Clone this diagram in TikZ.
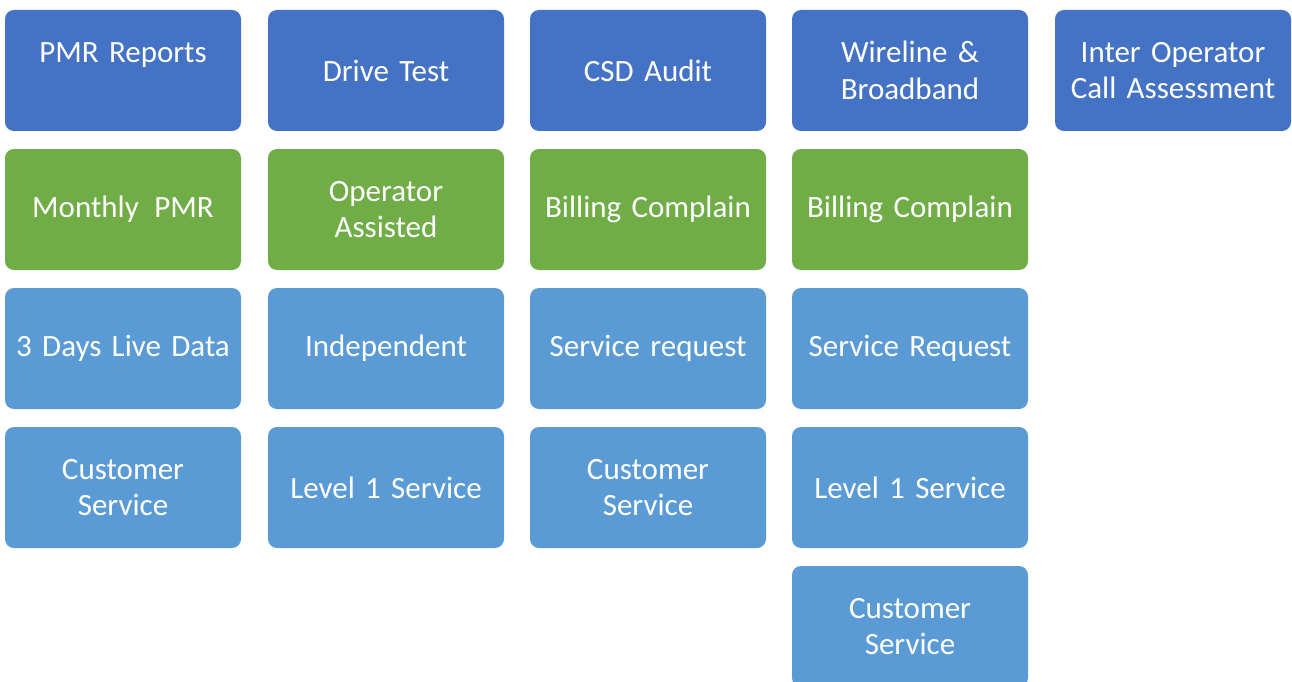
\documentclass[tikz,border=0pt]{standalone}
\usepackage{fontspec}
\setmainfont{Carlito}
\definecolor{dblue}{HTML}{4472C4}
\definecolor{lgreen}{HTML}{70AD47}
\definecolor{lblue}{HTML}{5B9BD5}
\begin{document}
\begin{tikzpicture}[x=1pt,y=-1pt,
  box/.style={rounded corners=9pt, minimum width=236pt, minimum height=121pt, inner sep=0pt,
    text=white, align=center, font=\fontsize{31}{36.5}\selectfont, text width=234pt},
  topbox/.style={box, fill=dblue},
  greenbox/.style={box, fill=lgreen},
  lbbox/.style={box, fill=lblue}]
\useasboundingbox (0,0) rectangle (1292,682);
\begin{scope}
\clip (0,0) rectangle (1292,682);
% column centers: 123, 386, 648, 910, 1173 ; row centers: 70.5, 209.5, 348.5, 487.5, 626.5
\node[topbox] (a1) at (123,70.5) {PMR Reports\\\mbox{}};
\node[topbox] (b1) at (386,70.5) {Drive Test};
\node[topbox] (c1) at (648,70.5) {CSD Audit};
\node[topbox] (d1) at (910,70.5) {Wireline \&\\Broadband};
\node[topbox] (e1) at (1173,70.5) {Inter Operator\\Call Assessment};
\node[greenbox] (a2) at (123,209.5) {Monthly\, PMR};
\node[greenbox] (b2) at (386,209.5) {Operator\\Assisted};
\node[greenbox] (c2) at (648,209.5) {Billing Complain};
\node[greenbox] (d2) at (910,209.5) {Billing Complain};
\node[lbbox] (a3) at (123,348.5) {3 Days Live Data};
\node[lbbox] (b3) at (386,348.5) {Independent};
\node[lbbox] (c3) at (648,348.5) {Service request};
\node[lbbox] (d3) at (910,348.5) {Service Request};
\node[lbbox] (a4) at (123,487.5) {Customer\\Service};
\node[lbbox] (b4) at (386,487.5) {Level 1 Service};
\node[lbbox] (c4) at (648,487.5) {Customer\\Service};
\node[lbbox] (d4) at (910,487.5) {Level 1 Service};
\node[lbbox] (d5) at (910,626.5) {Customer\\Service};
\end{scope}
\end{tikzpicture}
\end{document}
